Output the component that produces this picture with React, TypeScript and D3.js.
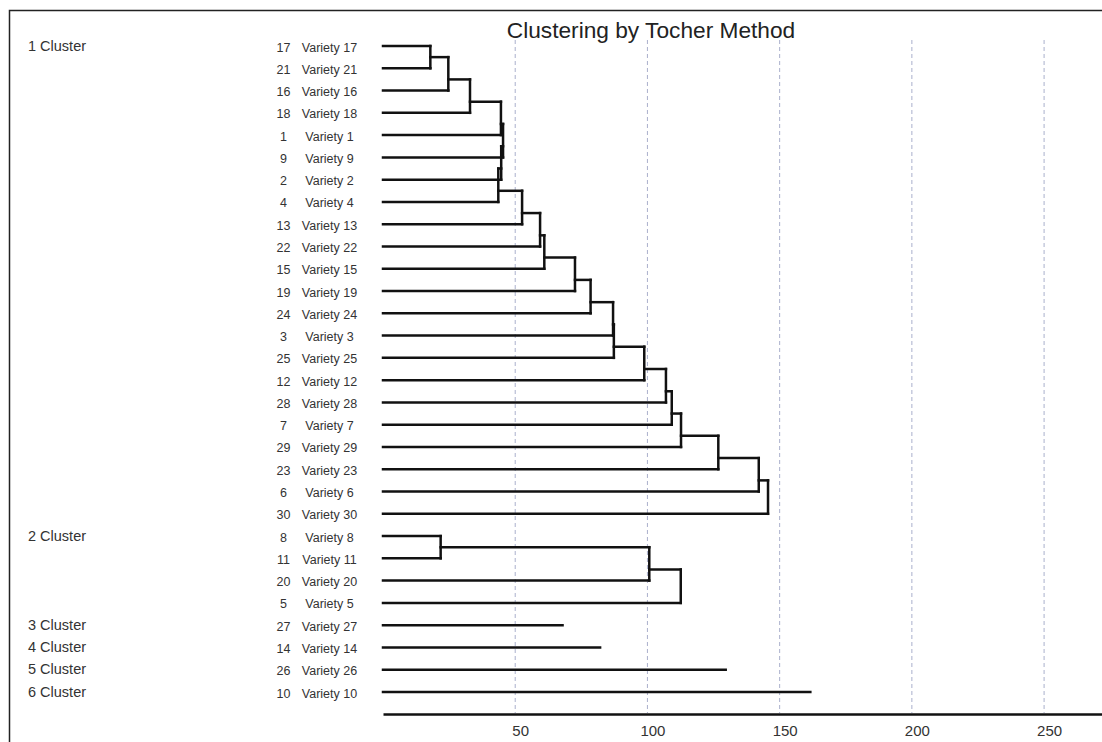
import React, { useRef, useEffect } from "react";
import * as d3 from "d3";

// leaves in display order, grouped by Tocher cluster
const clusterNames = ["1 Cluster", "2 Cluster", "3 Cluster", "4 Cluster", "5 Cluster", "6 Cluster"];
const clusterMembers = [
  [17, 21, 16, 18, 1, 9, 2, 4, 13, 22, 15, 19, 24, 3, 25, 12, 28, 7, 29, 23, 6, 30],
  [8, 11, 20, 5],
  [27],
  [14],
  [26],
  [10],
];
// height at which each member (after the first) joins; singleton = line length
const joinHeights = [
  [17.9, 24.7, 32.9, 44.6, 45.4, 44.7, 43.6, 52.6, 59.4, 61.0, 72.6, 78.5, 87.0, 87.3, 98.8, 107.0, 109.2, 112.7, 126.8, 142.1, 145.6],
  [21.8, 100.7, 112.6],
  [67.9],
  [82.1],
  [129.6],
  [161.6],
];
const tickValues = [50, 100, 150, 200, 250];

const W = 1102;
const H = 742;

const Dendrogram = () => {
  const svgRef = useRef<SVGSVGElement>(null);

  useEffect(() => {
    if (!svgRef.current) return;
    const svg = d3.select(svgRef.current);
    svg.selectAll("*").remove();

    const leaves = clusterMembers.flat();
    const x = d3.scaleLinear().domain([0, 271.9]).range([383, W]);
    const y = d3.scalePoint<number>().domain(leaves).range([46, 692]);
    const font = "Liberation Sans, Arial, Helvetica, sans-serif";

    // frame
    svg.append("path")
      .attr("d", `M9.5,${H} V10.5 H${W}`)
      .attr("fill", "none")
      .attr("stroke", "#222")
      .attr("stroke-width", 1.5);

    svg.append("text")
      .attr("x", 651)
      .attr("y", 38)
      .attr("text-anchor", "middle")
      .attr("font-family", font)
      .attr("font-size", 22.7)
      .attr("fill", "#222")
      .text("Clustering by Tocher Method");

    // grid
    svg.append("g")
      .selectAll("line")
      .data(tickValues)
      .join("line")
      .attr("x1", (d) => x(d))
      .attr("x2", (d) => x(d))
      .attr("y1", 40)
      .attr("y2", 713)
      .attr("stroke", "#aab0cc")
      .attr("stroke-width", 1)
      .attr("stroke-dasharray", "4,3");

    // axis
    const axis = svg.append("g")
      .attr("transform", "translate(0,714)")
      .call(d3.axisBottom(x).tickValues(tickValues).tickSize(0).tickSizeOuter(0).tickPadding(11));
    axis.select(".domain").attr("stroke", "#111").attr("stroke-width", 2.5);
    axis.selectAll("text")
      .attr("dx", 5)
      .attr("font-family", font)
      .attr("font-size", 15)
      .attr("fill", "#333");

    // row labels
    const rows = svg.append("g").attr("font-family", font).attr("font-size", 12.5).attr("fill", "#333");
    rows.selectAll("text.num")
      .data(leaves)
      .join("text")
      .attr("class", "num")
      .attr("x", 283.5)
      .attr("y", (d) => y(d)! + 5.5)
      .attr("text-anchor", "middle")
      .text((d) => d);
    rows.selectAll("text.name")
      .data(leaves)
      .join("text")
      .attr("class", "name")
      .attr("x", 329.5)
      .attr("y", (d) => y(d)! + 5.5)
      .attr("text-anchor", "middle")
      .text((d) => `Variety ${d}`);

    // cluster labels
    svg.append("g")
      .selectAll("text")
      .data(clusterNames)
      .join("text")
      .attr("x", 28)
      .attr("y", (d, i) => y(clusterMembers[i][0])! + 4.5)
      .attr("font-family", font)
      .attr("font-size", 14.5)
      .attr("fill", "#333")
      .text((d) => d);

    // tree segments
    const segs: [number, number, number, number][] = [];
    clusterMembers.forEach((members, ci) => {
      const hs = joinHeights[ci];
      if (members.length === 1) {
        segs.push([0, y(members[0])!, hs[0], y(members[0])!]);
        return;
      }
      let nodeH = 0;
      let nodeY = y(members[0])!;
      members.slice(1).forEach((m, k) => {
        const h = hs[k];
        const ly = y(m)!;
        segs.push([nodeH, nodeY, h, nodeY]);
        segs.push([0, ly, h, ly]);
        segs.push([h, nodeY, h, ly]);
        nodeY = k === 0 ? (nodeY + ly) / 2 : (nodeY + 2 * ly) / 3;
        nodeH = h;
      });
    });

    svg.append("g")
      .selectAll("line")
      .data(segs)
      .join("line")
      .attr("x1", (d) => x(d[0]))
      .attr("y1", (d) => d[1])
      .attr("x2", (d) => x(d[2]))
      .attr("y2", (d) => d[3])
      .attr("stroke", "#111")
      .attr("stroke-width", 2.5)
      .attr("stroke-linecap", "square");
  }, []);

  return (
    <svg
      ref={svgRef}
      width={W}
      height={H}
      style={{ position: "absolute", left: 0, top: 0, background: "#fff" }}
    ></svg>
  );
};

export default function App() {
  return <Dendrogram />;
}
